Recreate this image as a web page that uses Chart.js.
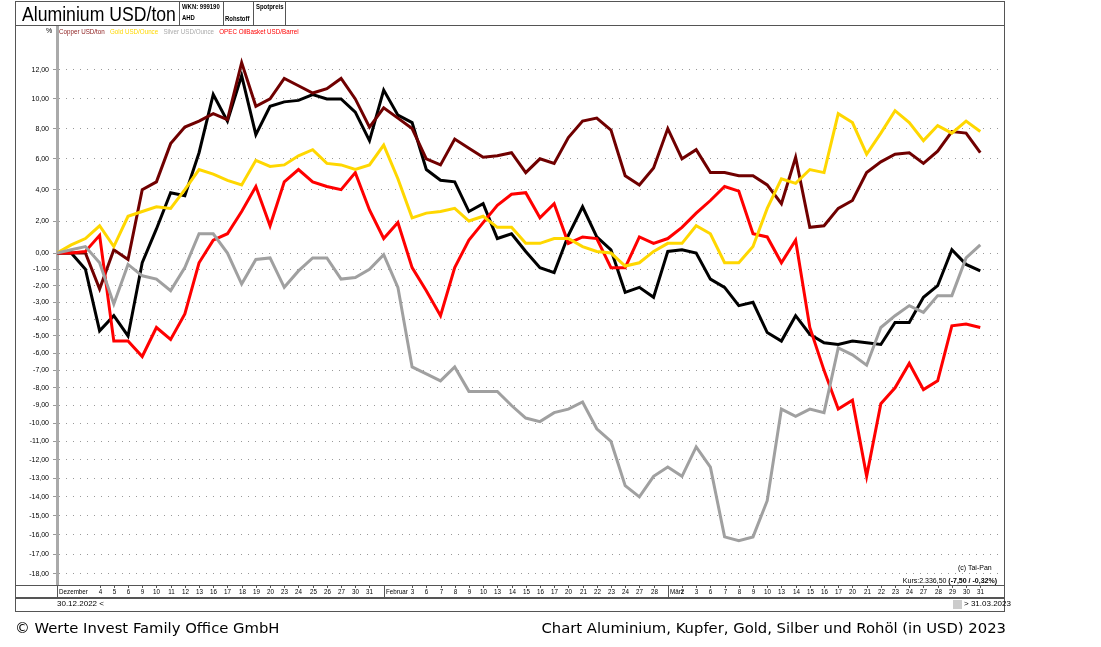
<!DOCTYPE html>
<html><head><meta charset="utf-8">
<script src="https://cdn.jsdelivr.net/npm/chart.js@4"></script>
<style>
body{margin:0;background:#fff;font-family:"Liberation Sans",Arial,sans-serif;}
#wrap{position:relative;width:1101px;height:647px;}
canvas{position:absolute;left:0;top:0;}
.a{position:absolute;white-space:nowrap;}
.n{transform-origin:0 0;}
.box{position:absolute;border:1px solid #555;box-sizing:border-box;}
</style></head><body>
<div id="wrap">
<canvas id="c" width="1101" height="647"></canvas>
<div class="box" style="left:15px;top:1px;width:990px;height:611px;"></div>
<div class="box" style="left:15px;top:1px;width:990px;height:25px;border-bottom:1px solid #555;"></div>
<div class="a n" style="left:22px;top:2px;font-size:21px;transform:scaleX(0.84);">Aluminium USD/ton</div>
<div class="box" style="left:179px;top:1px;width:45px;height:25px;"></div>
<div class="box" style="left:223px;top:1px;width:31px;height:25px;"></div>
<div class="box" style="left:253px;top:1px;width:33px;height:25px;"></div>
<div class="a n" style="left:182px;top:3px;font-size:7px;font-weight:bold;transform:scaleX(0.85);">WKN: 999190</div>
<div class="a n" style="left:182px;top:14px;font-size:7px;font-weight:bold;transform:scaleX(0.85);">AHD</div>
<div class="a n" style="left:225px;top:15px;font-size:7px;font-weight:bold;transform:scaleX(0.85);">Rohstoff</div>
<div class="a n" style="left:256px;top:3px;font-size:7px;font-weight:bold;transform:scaleX(0.85);">Spotpreis</div>
<div class="a" style="left:46px;top:27px;font-size:7px;">%</div>
<div class="a n" style="left:59px;top:27px;font-size:8px;transform:scaleX(0.78);">
<span style="color:#8b1a1a">Copper USD/ton</span>&nbsp;&nbsp;
<span style="color:#ffd700">Gold USD/Ounce</span>&nbsp;&nbsp;
<span style="color:#aaa">Silver USD/Ounce</span>&nbsp;&nbsp;
<span style="color:#f00">OPEC OilBasket USD/Barrel</span></div>
<div class="a" style="left:958px;top:564px;font-size:7px;">(c) Tai-Pan</div>
<div class="a" style="right:104px;top:577px;font-size:7px;">Kurs:2.336,50 <b>(-7,50 / -0,32%)</b></div>
<div class="box" style="left:15px;top:597px;width:990px;height:1px;"></div>
<div class="a" style="left:57px;top:599px;font-size:8px;">30.12.2022 &lt;</div>
<div class="a" style="left:953px;top:600px;width:9px;height:9px;background:#ccc;"></div>
<div class="a" style="left:964px;top:599px;font-size:8px;">&gt; 31.03.2023</div>
<div class="a" style="left:15px;top:619px;font-size:14.8px;font-family:'DejaVu Sans';">© Werte Invest Family Office GmbH</div>
<div class="a" style="right:95px;top:619px;font-size:14.8px;font-family:'DejaVu Sans';">Chart Aluminium, Kupfer, Gold, Silber und Rohöl (in USD) 2023</div>
</div>
<script>
const dateLabels=["Dezember","","","4","5","6","9","10","11","12","13","16","17","18","19","20","23","24","25","26","27","30","31","Februar","","3","6","7","8","9","10","13","14","15","16","17","20","21","22","23","24","27","28","März","2","3","6","7","8","9","10","13","14","15","16","17","20","21","22","23","24","27","28","29","30","31"];
const aluminium=[0,0,-1,-4.7,-3.8,-5.0,-0.6,1.5,3.8,3.6,6.4,10.3,8.5,11.6,7.6,9.5,9.8,9.9,10.3,10.0,10.0,9.1,7.2,10.6,8.9,8.4,5.3,4.6,4.5,2.6,3.1,0.9,1.2,0.1,-0.9,-1.2,1.1,2.9,1.0,0.2,-2.4,-2.1,-2.7,0.1,0.2,0,-1.6,-2.1,-3.2,-3.0,-4.8,-5.3,-3.8,-4.9,-5.4,-5.5,-5.3,-5.4,-5.5,-4.2,-4.2,-2.7,-2.0,0.2,-0.7,-1.1];
const copper=[0,0,0,-2.2,0.2,-0.4,4.0,4.5,7.0,8.1,8.5,9.0,8.6,12.5,9.5,10.0,11.4,10.9,10.4,10.7,11.4,10.0,8.1,9.4,8.7,8.0,6.0,5.6,7.3,6.7,6.1,6.2,6.4,5.1,6.0,5.7,7.4,8.5,8.7,7.9,4.9,4.3,5.4,8.0,6.0,6.6,5.1,5.1,4.9,4.9,4.3,3.1,6.1,1.6,1.7,2.8,3.3,5.1,5.8,6.3,6.4,5.7,6.5,7.8,7.7,6.4];
const gold=[0,0.5,0.9,1.7,0.4,2.3,2.6,2.9,2.8,4.0,5.3,5.0,4.6,4.3,5.9,5.5,5.6,6.2,6.6,5.7,5.6,5.3,5.6,6.9,4.7,2.2,2.5,2.6,2.8,2.0,2.3,1.6,1.6,0.6,0.6,0.9,0.9,0.4,0.1,0,-0.8,-0.6,0.1,0.6,0.6,1.7,1.2,-0.6,-0.6,0.4,2.8,4.7,4.4,5.3,5.1,9.0,8.4,6.3,7.7,9.2,8.4,7.2,8.2,7.7,8.5,7.8];
const silver=[0,0.2,0.4,-0.6,-3.1,-0.7,-1.4,-1.6,-2.3,-0.9,1.2,1.2,0,-1.9,-0.4,-0.3,-2.1,-1.1,-0.3,-0.3,-1.6,-1.5,-1.0,-0.1,-2.1,-6.8,-7.2,-7.6,-6.8,-8.2,-8.2,-8.2,-9.0,-9.7,-9.9,-9.4,-9.2,-8.8,-10.3,-11.0,-13.4,-14.0,-12.9,-12.4,-12.9,-11.3,-12.4,-16.1,-16.3,-16.1,-14.2,-9.2,-9.6,-9.2,-9.4,-5.7,-6.1,-6.7,-4.5,-3.8,-3.2,-3.6,-2.6,-2.6,-0.3,0.5];
const opec=[0,0,0.1,1.1,-5.3,-5.3,-6.2,-4.5,-5.2,-3.7,-0.6,0.8,1.2,2.6,4.2,1.7,4.5,5.3,4.5,4.2,4.0,5.1,2.7,0.9,1.9,-0.9,-2.3,-3.8,-0.9,0.8,1.9,3.0,3.7,3.8,2.2,3.1,0.6,1.0,0.9,-0.9,-0.9,1.0,0.6,0.9,1.6,2.5,3.3,4.2,3.9,1.2,1.0,-0.6,0.8,-4.5,-7.0,-9.2,-8.7,-12.9,-8.9,-8.0,-6.6,-8.1,-7.6,-4.4,-4.3,-4.5];
const yTicks=[12,10,8,6,4,2,0,-1,-2,-3,-4,-5,-6,-7,-8,-9,-10,-11,-12,-13,-14,-15,-16,-17,-18];
const L=p=>Math.log(1+p/100);
const pts=a=>a.map((v,i)=>({x:i,y:L(v)}));
const ds=(lbl,arr,col,w)=>({label:lbl,data:pts(arr),borderColor:col,borderWidth:w,pointRadius:0,tension:0,fill:false});
const xLabelPlugin={id:'xl',afterDraw(ch){
  const x=ch.scales.x,ctx=ch.ctx,top=ch.chartArea.bottom;
  ctx.save();ctx.font='8px "Liberation Sans"';ctx.fillStyle='#000';ctx.strokeStyle='#555';ctx.lineWidth=1;
  ctx.beginPath();ctx.moveTo(15,top+0.5);ctx.lineTo(1005,top+0.5);ctx.stroke();
  dateLabels.forEach((t,i)=>{
    const px=Math.round(x.getPixelForValue(i))+0.5;
    if(!t)return;
    const month=isNaN(+t);
    ctx.beginPath();ctx.moveTo(px,top);ctx.lineTo(px,top+(month?12:3));ctx.stroke();
    ctx.save();ctx.translate(px,top+3);ctx.scale(0.78,1);ctx.textBaseline='top';
    if(month){ctx.textAlign='left';ctx.fillText(t,2,0);}
    else{ctx.textAlign='center';ctx.fillText(t,0,0);}
    ctx.restore();
  });
  ctx.restore();
}};
new Chart(document.getElementById('c'),{
  type:'line',
  data:{datasets:[ds('Silver USD/Ounce',silver,'#a0a0a0',3),ds('Gold USD/Ounce',gold,'#ffd700',3),ds('OPEC OilBasket USD/Barrel',opec,'#ff0000',3),ds('Copper USD/ton',copper,'#700000',3),ds('Aluminium USD/ton',aluminium,'#000000',3)]},
  options:{responsive:false,animation:false,devicePixelRatio:1,
    layout:{padding:{left:15,top:26,right:98,bottom:36}},
    plugins:{legend:{display:false},tooltip:{enabled:false}},
    scales:{
      x:{type:'linear',min:0,max:66.6,display:true,grid:{display:false},border:{display:false},ticks:{display:false},afterFit(s){s.height=26;}},
      y:{min:-0.2053,max:0.1404,
        afterBuildTicks(s){s.ticks=yTicks.map(v=>({value:L(v)}));},
        afterFit(s){s.width=42;},
        ticks:{font:{family:'Liberation Sans',size:7},color:'#000',padding:4,autoSkip:false,
          callback(v){const p=Math.round((Math.exp(v)-1)*100);return p.toFixed(2).replace('.',',');}},
        grid:{color:'#999',lineWidth:1,tickLength:4,dash:[1,6]},
        border:{display:true,color:'#aaa',width:3,dash:[1,6]}
      }
    }
  },
  plugins:[xLabelPlugin]
});
</script>
</body></html>
